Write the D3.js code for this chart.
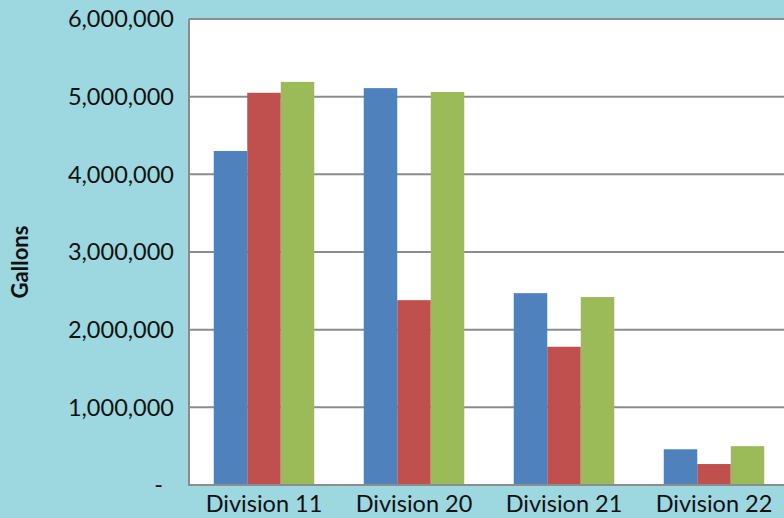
<!DOCTYPE html>
<html><head><meta charset="utf-8">
<script src="https://cdn.jsdelivr.net/npm/d3@7"></script>
<style>
html,body{margin:0;padding:0;background:#9dd7df;}
svg{display:block;}
</style></head>
<body>
<svg id="chart" width="784" height="518"></svg>
<script>
const categories = ["Division 11","Division 20","Division 21","Division 22"];
const seriesNames = ["Series A","Series B","Series C"];
const seriesA = [4300000, 5110000, 2470000, 460000];
const seriesB = [5050000, 2380000, 1780000, 270000];
const seriesC = [5190000, 5060000, 2420000, 500000];
const yTicks = [0,1000000,2000000,3000000,4000000,5000000,6000000];
const colors = ["#4f81bd","#c0504d","#9bbb59"];

(function(){
const svg = d3.select("#chart");
const W = 784, H = 518;
svg.append("rect").attr("width",W).attr("height",H).attr("fill","#9dd7df");

const pL = 189, pT = 19, pB = 485, pR = 789;
const x = d3.scaleBand().domain(categories).range([pL, pR]).paddingInner(0).paddingOuter(0);
const y = d3.scaleLinear().domain([0,6000000]).range([pB, pT]);
const xs = d3.scaleBand().domain(seriesNames).range([0, 100.5]);

svg.append("rect").attr("x",pL).attr("y",pT).attr("width",pR-pL).attr("height",pB-pT).attr("fill","#ffffff");

svg.append("g").selectAll("line").data(yTicks.filter(d=>d>0)).join("line")
  .attr("x1",pL).attr("x2",pR)
  .attr("y1",d=>y(d)).attr("y2",d=>y(d))
  .attr("stroke","#8c8c8c").attr("stroke-width",2);

const data = [seriesA, seriesB, seriesC];
const g = svg.append("g");
categories.forEach((c,i)=>{
  const bx = x(c) + (x.bandwidth()-100.5)/2;
  data.forEach((s,j)=>{
    g.append("rect")
      .attr("x", bx + xs(seriesNames[j]))
      .attr("width", xs.bandwidth())
      .attr("y", y(s[i]))
      .attr("height", pB - y(s[i]))
      .attr("fill", colors[j]);
  });
});

svg.append("line").attr("x1",pL).attr("x2",pL).attr("y1",pT).attr("y2",pB+1)
  .attr("stroke","#8c8c8c").attr("stroke-width",2);
svg.append("line").attr("x1",pL).attr("x2",pR).attr("y1",pB).attr("y2",pB)
  .attr("stroke","#8c8c8c").attr("stroke-width",2);

const fmt = d3.format(",");
svg.append("g").selectAll("text").data(yTicks).join("text")
  .attr("x", d=> d===0 ? 163 : 174)
  .attr("y", d=>y(d))
  .attr("dy","0.35em")
  .attr("text-anchor","end")
  .attr("font-family","Lato, 'Open Sans', sans-serif")
  .attr("font-size",23.5)
  .attr("fill","#111")
  .text(d=> d===0 ? "-" : fmt(d));

svg.append("g").selectAll("text").data(categories).join("text")
  .attr("x", d=>x(d)+x.bandwidth()/2)
  .attr("y", 512)
  .attr("text-anchor","middle")
  .attr("font-family","Lato, 'Open Sans', sans-serif")
  .attr("font-size",23.5)
  .attr("fill","#111")
  .text(d=>d);

svg.append("text")
  .attr("transform","translate(28,262) rotate(-90)")
  .attr("text-anchor","middle")
  .attr("font-family","Lato, 'Open Sans', sans-serif")
  .attr("font-weight","bold")
  .attr("font-size",22)
  .attr("fill","#111")
  .text("Gallons");
})();
</script>
</body></html>
